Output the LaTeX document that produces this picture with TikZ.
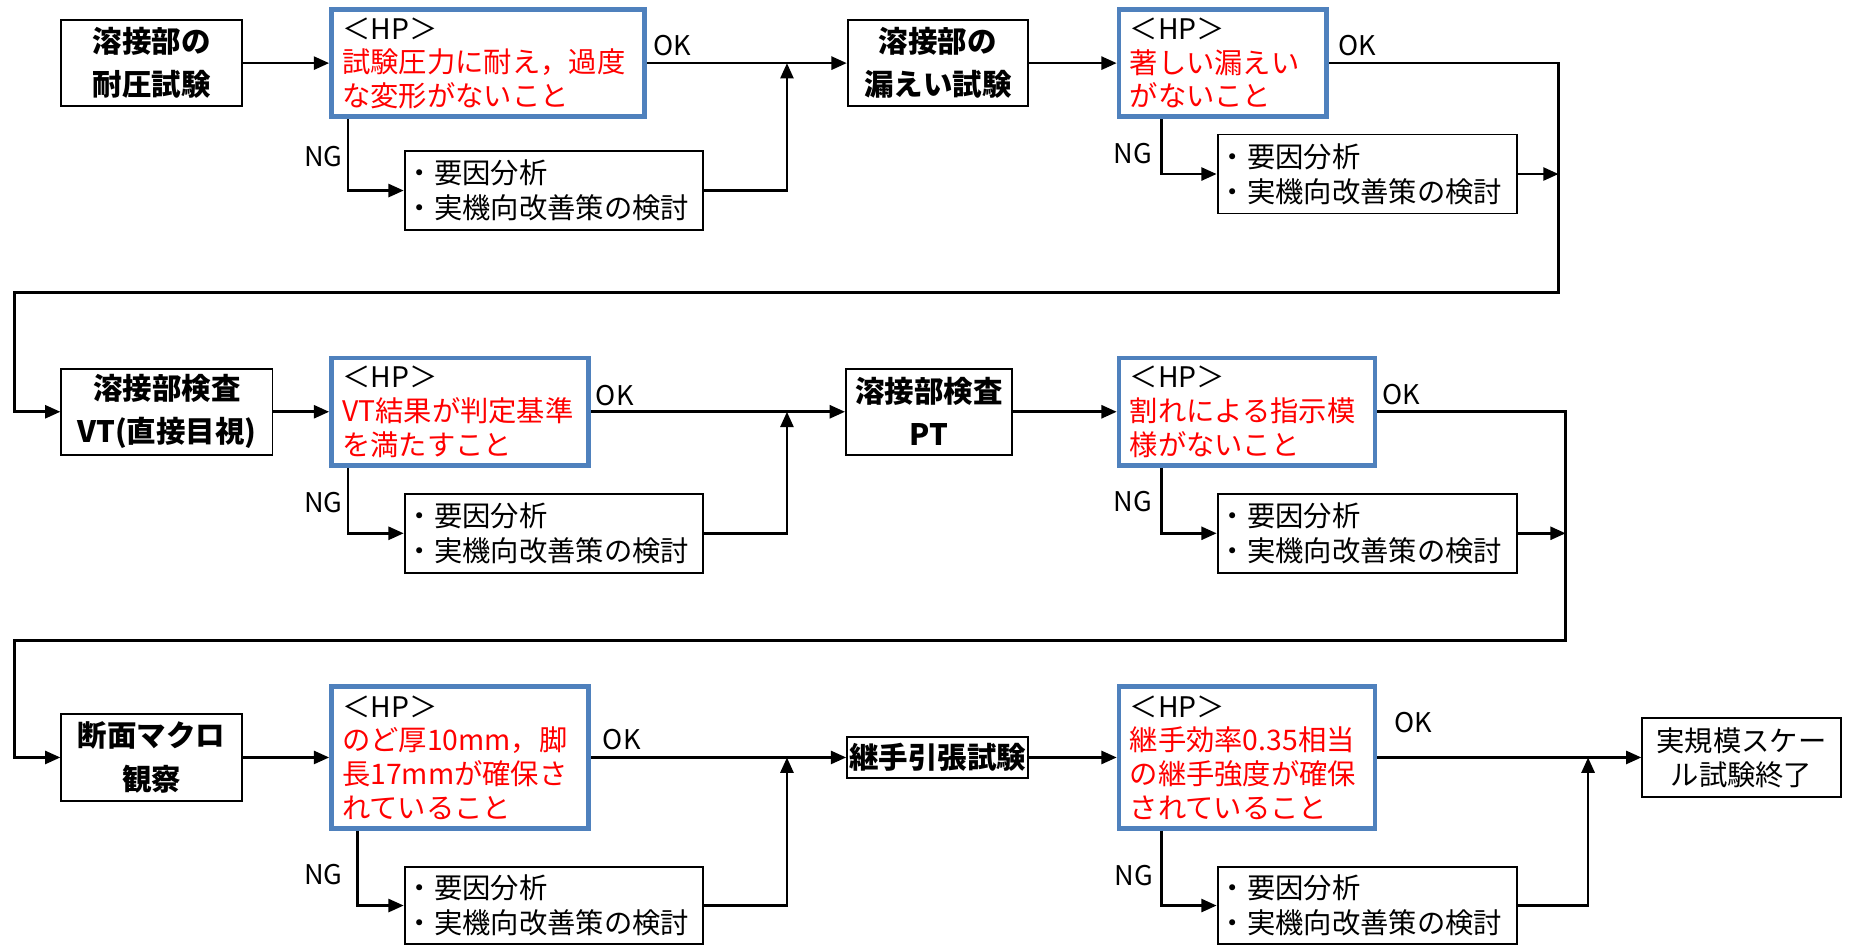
\documentclass[tikz,border=0pt]{standalone}
\usepackage{fontspec}
\setmainfont{Noto Sans CJK JP}
\usetikzlibrary{arrows.meta}
\definecolor{hpblue}{RGB}{79,129,189}
\definecolor{hpred}{RGB}{255,0,0}
\begin{document}
\begin{tikzpicture}[x=1pt,y=-1pt,
  conn/.style={line width=2.3pt,-{Triangle[length=13pt,width=11pt]}},
  boxbase/.style={draw,line width=1.6pt,fill=white,inner xsep=9pt,inner ysep=0pt},
  plain/.style={boxbase,inner xsep=1pt,align=left,font=\fontsize{24}{30}\selectfont},
  titlebox/.style={boxbase,inner xsep=2pt,align=center,font=\bfseries\fontsize{25}{36.5}\selectfont},
  endbox/.style={boxbase,inner xsep=2pt,align=center,font=\fontsize{24}{29}\selectfont},
  hp/.style={draw=hpblue,line width=4pt,fill=white,inner xsep=9pt,inner ysep=0pt,align=left,font=\fontsize{24}{28.5}\selectfont},
  lbl/.style={inner sep=0pt,font=\fontsize{23}{26}\selectfont}
]
\path[use as bounding box] (0,0) rectangle (1568,802);

% ---------- row 1 ----------
\node[titlebox,text width=149pt,minimum height=73pt] (A) at (128.5,53.5) {溶接部の\\耐圧試験};
\node[hp,text width=247pt,minimum height=91pt] (HP1) at (413.5,53.5) {＜HP＞\\\textcolor{hpred}{試験圧力に耐え，過度}\\\textcolor{hpred}{な変形がないこと}};
\node[plain,text width=251pt,minimum height=67pt] (C) at (469.5,161.5) {・要因分析\\・実機向改善策の検討};
\node[titlebox,text width=149pt,minimum height=73pt] (B) at (795,53.5) {溶接部の\\漏えい試験};
\node[hp,text width=158pt,minimum height=91pt] (HP2) at (1036.5,53.5) {＜HP＞\\\textcolor{hpred}{著しい漏えい}\\\textcolor{hpred}{がないこと}};
\node[plain,text width=252pt,minimum height=67pt] (E) at (1159,147.5) {・要因分析\\・実機向改善策の検討};

\node[lbl] (ok1) at (570,39) {OK};
\node[lbl] (ng1) at (274,133) {NG};
\node[lbl] (ok2) at (1150,39) {OK};
\node[lbl] (ng2) at (960,130) {NG};

\coordinate (j1) at (667,53.5);
\coordinate (t1) at (1321,248);
\coordinate (t2) at (12,248);

\draw[conn] (A) -- (HP1);
\draw[conn] (HP1) -- (B);
\draw[conn] ([xshift=16pt]HP1.south west) |- (C.west);
\draw[conn] (C.east) -| (j1);
\draw[conn] (B) -- (HP2);
\draw[conn] ([xshift=38pt]HP2.south west) |- (E.west);
\draw[conn] (E.east) -- (E.east -| t1);

% ---------- row 2 ----------
\node[titlebox,text width=175pt,minimum height=73pt] (D) at (141.5,349) {溶接部検査\\VT(直接目視)};
\node[hp,text width=200pt,minimum height=91pt] (HP3) at (390,349) {＜HP＞\\\textcolor{hpred}{VT結果が判定基準}\\\textcolor{hpred}{を満たすこと}};
\node[plain,text width=251pt,minimum height=67pt] (G) at (469.5,452) {・要因分析\\・実機向改善策の検討};
\node[titlebox,text width=137pt,minimum height=73pt] (F) at (787.5,349) {溶接部検査\\PT};
\node[hp,text width=199pt,minimum height=91pt] (HP4) at (1057,349) {＜HP＞\\\textcolor{hpred}{割れによる指示模}\\\textcolor{hpred}{様がないこと}};
\node[plain,text width=252pt,minimum height=67pt] (I) at (1159,452) {・要因分析\\・実機向改善策の検討};

\node[lbl] (ok3) at (521,335) {OK};
\node[lbl] (ng3) at (274,426) {NG};
\node[lbl] (ok4) at (1188,334) {OK};
\node[lbl] (ng4) at (960,425) {NG};

\coordinate (j2) at (667,349);
\coordinate (t3) at (1327,543);
\coordinate (t4) at (12,543);

\draw[conn] (HP2.east) -| (t1) -- (t2) |- (D.west);
\draw[conn] (D) -- (HP3);
\draw[conn] (HP3) -- (F);
\draw[conn] ([xshift=16pt]HP3.south west) |- (G.west);
\draw[conn] (G.east) -| (j2);
\draw[conn] (F) -- (HP4);
\draw[conn] ([xshift=38pt]HP4.south west) |- (I.west);
\draw[conn] (I.east) -- (I.east -| t3);

% ---------- row 3 ----------
\node[titlebox,text width=149pt,minimum height=74pt] (H) at (128.5,642) {断面マクロ\\観察};
\node[hp,text width=200pt,minimum height=120pt] (HP5) at (390,642) {＜HP＞\\\textcolor{hpred}{のど厚10mm，脚}\\\textcolor{hpred}{長17mmが確保さ}\\\textcolor{hpred}{れていること}};
\node[plain,text width=251pt,minimum height=65pt] (K) at (469.5,767.5) {・要因分析\\・実機向改善策の検討};
\node[titlebox,text width=149pt,minimum height=35pt] (J) at (794.5,642) {継手引張試験};
\node[hp,text width=199pt,minimum height=120pt] (HP6) at (1057,642) {＜HP＞\\\textcolor{hpred}{継手効率0.35相当}\\\textcolor{hpred}{の継手強度が確保}\\\textcolor{hpred}{されていること}};
\node[plain,text width=252pt,minimum height=65pt] (M) at (1159,767.5) {・要因分析\\・実機向改善策の検討};
\node[endbox,text width=164pt,minimum height=67pt] (L) at (1476,642) {実規模スケー\\ル試験終了};

\node[lbl] (ok5) at (527,627) {OK};
\node[lbl] (ng5) at (274,741) {NG};
\node[lbl] (ok6) at (1198,612) {OK};
\node[lbl] (ng6) at (961,742) {NG};

\coordinate (j3) at (667,642);
\coordinate (j4) at (1346,642);

\draw[conn] (HP4.east) -| (t3) -- (t4) |- (H.west);
\draw[conn] (H) -- (HP5);
\draw[conn] (HP5) -- (J);
\draw[conn] ([xshift=24pt]HP5.south west) |- (K.west);
\draw[conn] (K.east) -| (j3);
\draw[conn] (J) -- (HP6);
\draw[conn] (HP6) -- (L);
\draw[conn] ([xshift=38pt]HP6.south west) |- (M.west);
\draw[conn] (M.east) -| (j4);
\end{tikzpicture}
\end{document}
